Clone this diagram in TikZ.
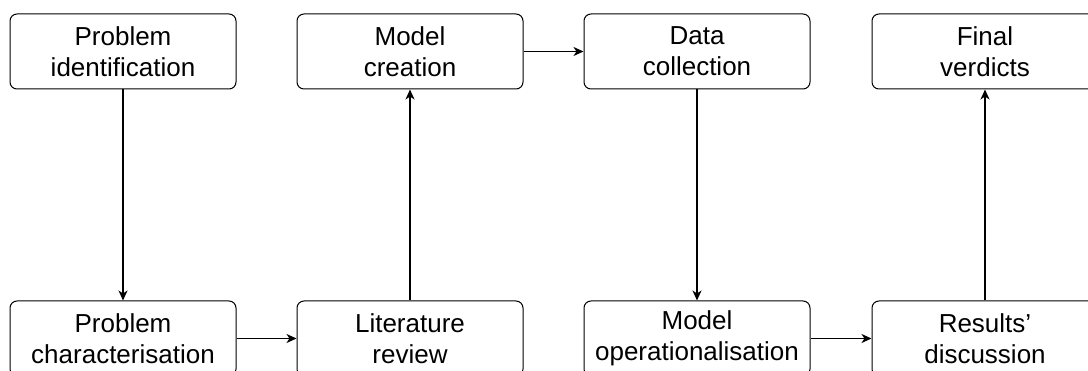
\documentclass[tikz,border=0pt]{standalone}
\usepackage{fontspec}
\setmainfont{Liberation Sans}
\usetikzlibrary{arrows.meta}
\begin{document}
\begin{tikzpicture}[x=1pt,y=-1pt,
  stage/.style={draw=black, line width=1pt, rounded corners=7pt,
    minimum width=226pt, minimum height=75pt, align=center,
    inner sep=0pt, font=\fontsize{26}{31}\selectfont},
  flow/.style={line width=1.6pt, -{Stealth[length=10pt,width=9pt,inset=3pt]}}]
\useasboundingbox (0,0) rectangle (1088,371);
\clip (0,0) rectangle (1088,371);
\fill[white] (0,0) rectangle (1088,371);
% top row
\node[stage] (ident) at (123,51.5) {Problem\\identification};
\node[stage] (model) at (410,51.5) {Model\\creation};
\node[stage] (data)  at (697,51.5) {Data\\collection};
\node[stage] (final) at (985,51.5) {Final\\verdicts};
% bottom row
\node[stage] (charac) at (123,338.5) {Problem\\characterisation};
\node[stage] (lit)    at (410,338.5) {Literature\\review};
\node[stage] (oper)   at (697,338.5) {Model\\operationalisation};
\node[stage] (res)    at (985,338.5) {Results'\\discussion};
% connectors
\draw[flow] (ident) -- (charac);
\draw[flow] (charac) -- (lit);
\draw[flow] (lit) -- (model);
\draw[flow] (model) -- (data);
\draw[flow] (data) -- (oper);
\draw[flow] (oper) -- (res);
\draw[flow] (res) -- (final);
\end{tikzpicture}
\end{document}
